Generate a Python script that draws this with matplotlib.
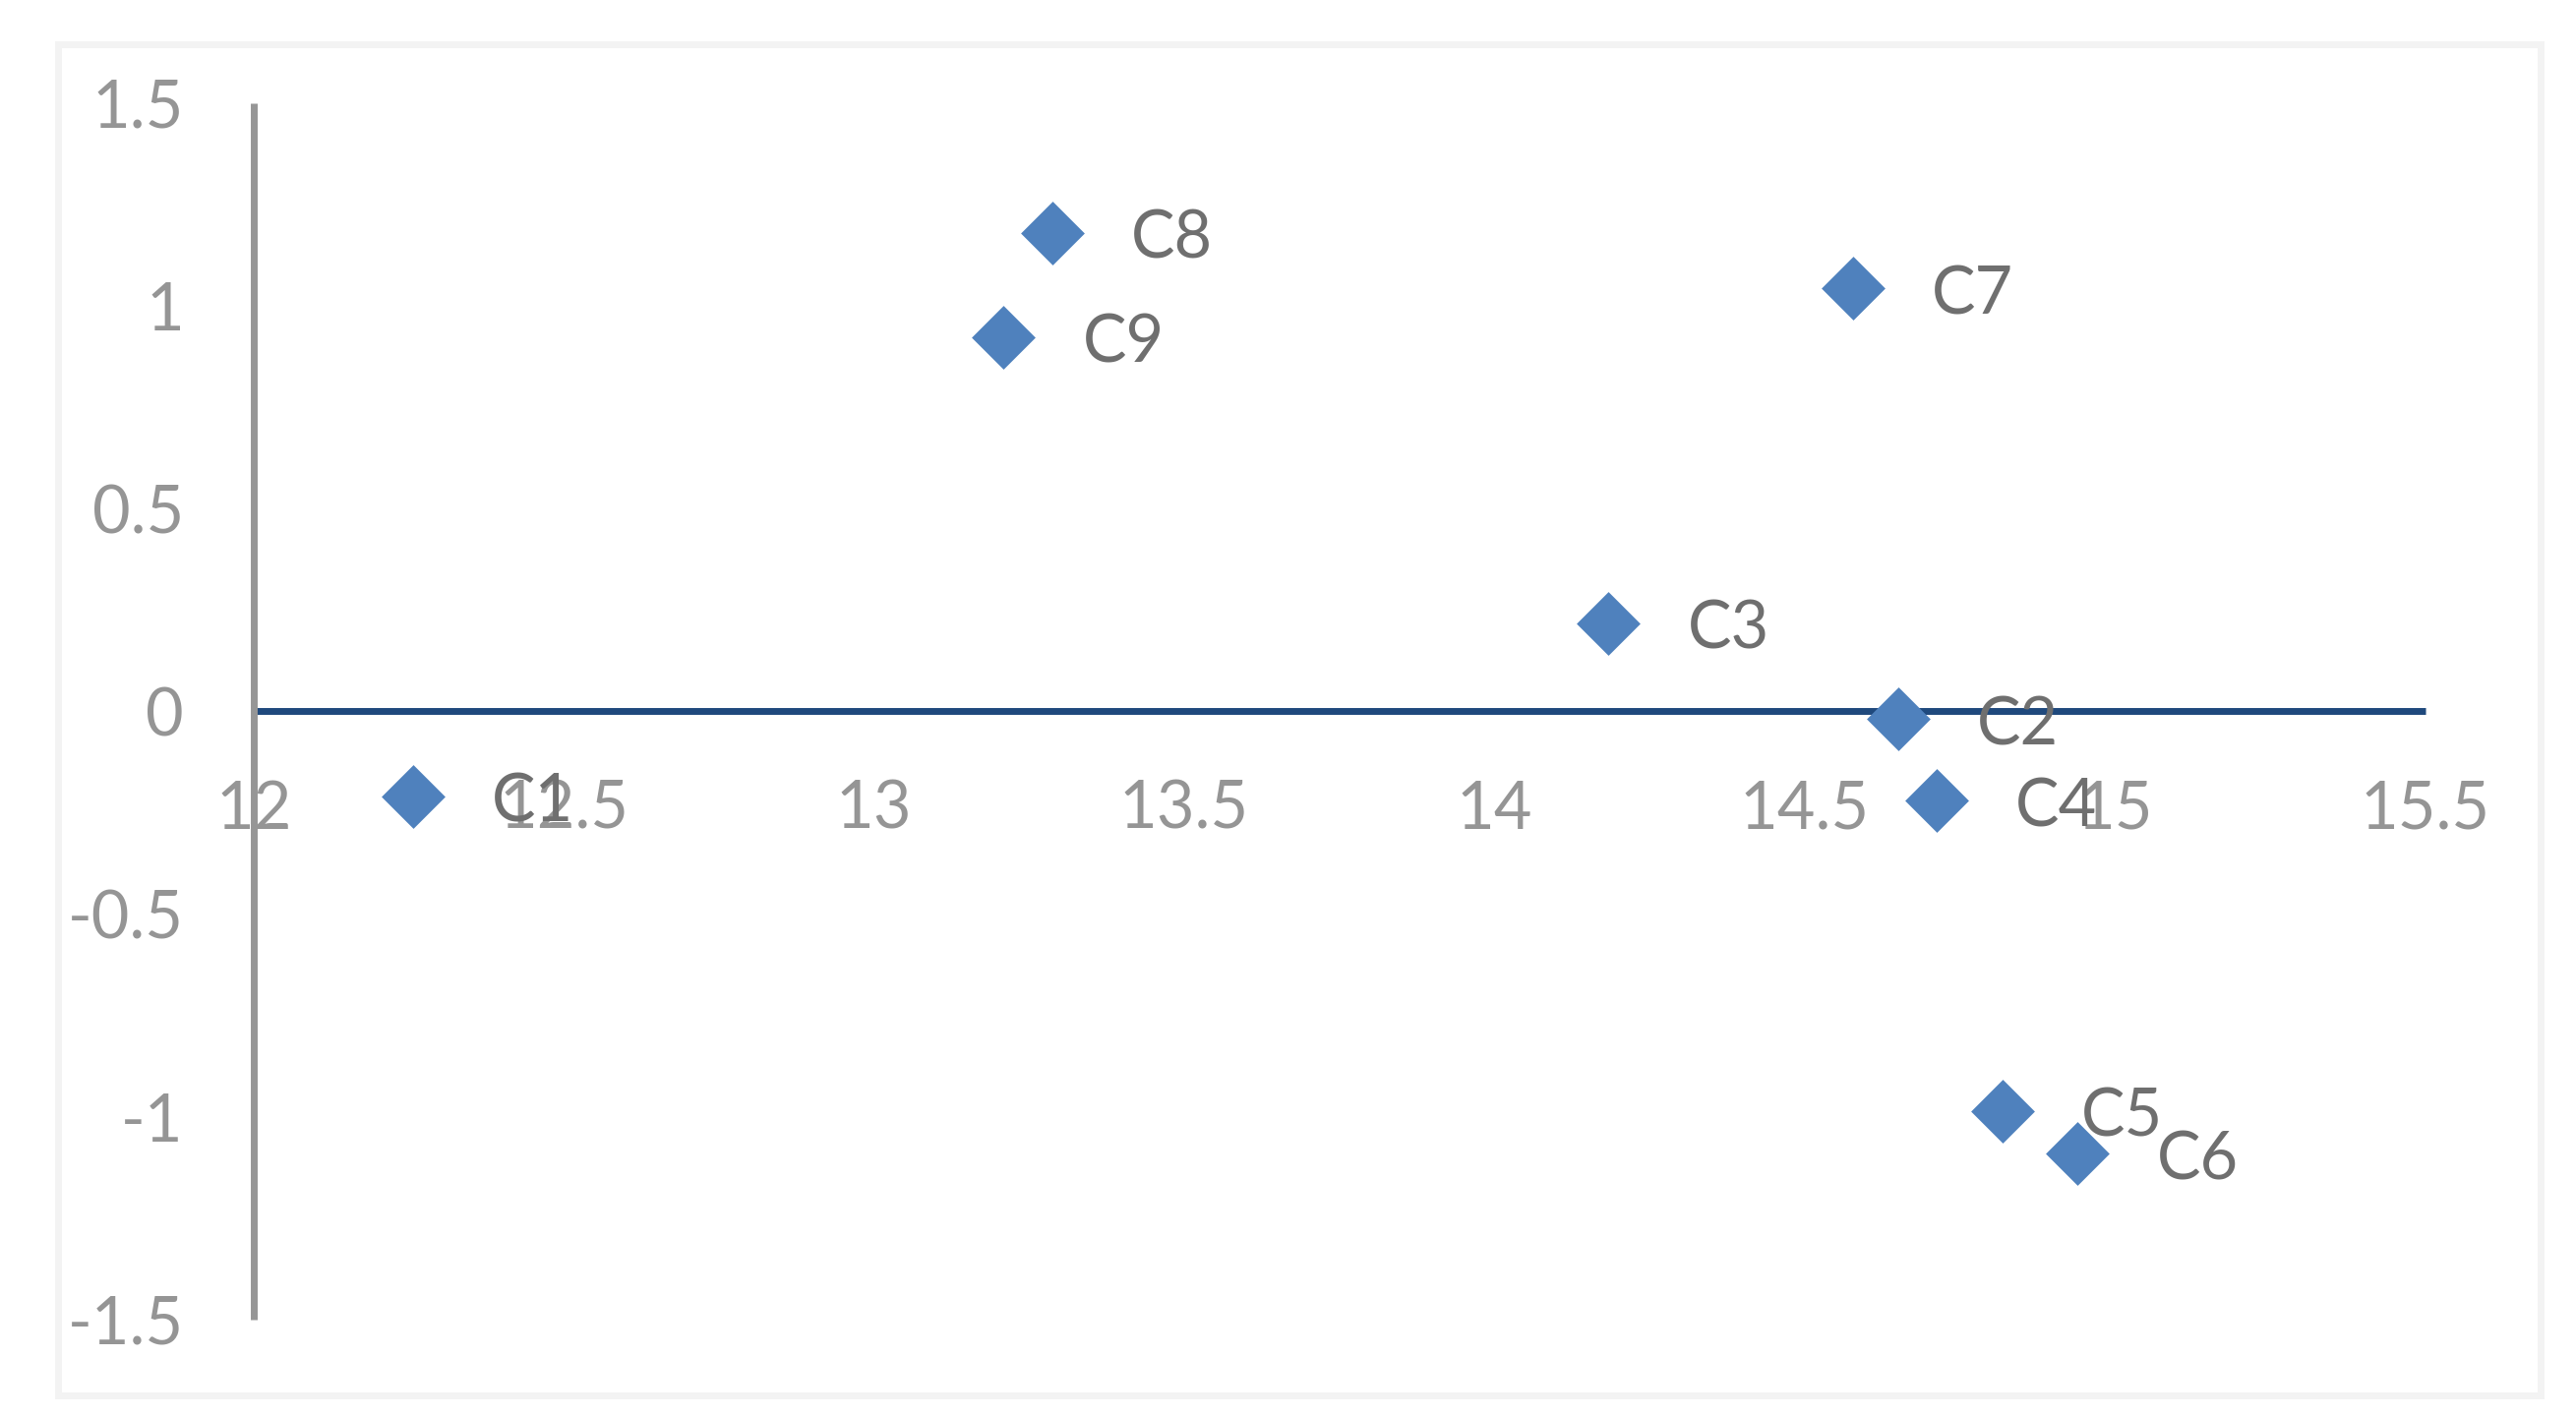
import matplotlib
matplotlib.use("Agg")
import matplotlib.pyplot as plt
from matplotlib.patches import Rectangle

# ---- data ----
labels = ["C1", "C2", "C3", "C4", "C5", "C6", "C7", "C8", "C9"]
x_vals = [12.257, 14.651, 14.184, 14.712, 14.819, 14.940, 14.578, 13.288, 13.209]
y_vals = [-0.210, -0.019, 0.217, -0.220, -0.986, -1.091, 1.043, 1.180, 0.923]
x_ticks = [12, 12.5, 13, 13.5, 14, 14.5, 15, 15.5]
x_tick_labels = ["12", "12.5", "13", "13.5", "14", "14.5", "15", "15.5"]
y_ticks = [-1.5, -1, -0.5, 0, 0.5, 1, 1.5]
y_tick_labels = ["-1.5", "-1", "-0.5", "0", "0.5", "1", "1.5"]

FONT = ["Lato", "DejaVu Sans"]
plt.rcParams["font.family"] = FONT

W, H, DPI = 2619, 1440, 100
fig = plt.figure(figsize=(W / DPI, H / DPI), dpi=DPI)
fig.patch.set_facecolor("white")

# outer light frame
fig.patches.append(Rectangle((58.5 / W, 1 - 1418.5 / H), (2582.5 - 58.5) / W, (1418.5 - 45) / H,
                             transform=fig.transFigure, fill=False,
                             edgecolor="#F3F3F3", linewidth=5, zorder=0))

left, right = 257.7 / W, 2465.7 / W
top, bottom = 1 - 105 / H, 1 - 1341.7 / H
ax = fig.add_axes([left, bottom, right - left, top - bottom])
ax.set_xlim(12, 15.5)
ax.set_ylim(-1.5, 1.5)
ax.set_facecolor("none")

for s in ["top", "right"]:
    ax.spines[s].set_visible(False)
ax.spines["bottom"].set_position(("data", 0))
ax.spines["bottom"].set_color("#1F497D")
ax.spines["bottom"].set_linewidth(5)
ax.spines["bottom"].set_capstyle("butt")
ax.spines["left"].set_color("#969696")
ax.spines["left"].set_linewidth(5)
ax.spines["left"].set_capstyle("butt")
ax.spines["left"].set_zorder(2.6)

ax.set_xticks(x_ticks)
ax.set_xticklabels(x_tick_labels)
ax.set_yticks(y_ticks)
ax.set_yticklabels(y_tick_labels)
ax.tick_params(axis="x", length=0, pad=50, labelsize=48, labelcolor="#959595")
ax.tick_params(axis="y", length=0, pad=51, labelsize=48, labelcolor="#959595")

ax.scatter(x_vals, y_vals, marker="D", s=33 ** 2, color="#4F81BD",
           linewidths=0, zorder=4, clip_on=False)

for lab, xv, yv in zip(labels, x_vals, y_vals):
    ax.annotate(lab, (xv, yv), xytext=(57.6, -18.7), textcoords="offset points",
                ha="left", va="baseline", fontsize=48, color="#6F6F6F", zorder=5,
                annotation_clip=False)

fig.savefig("out.png", dpi=DPI, facecolor="white")
